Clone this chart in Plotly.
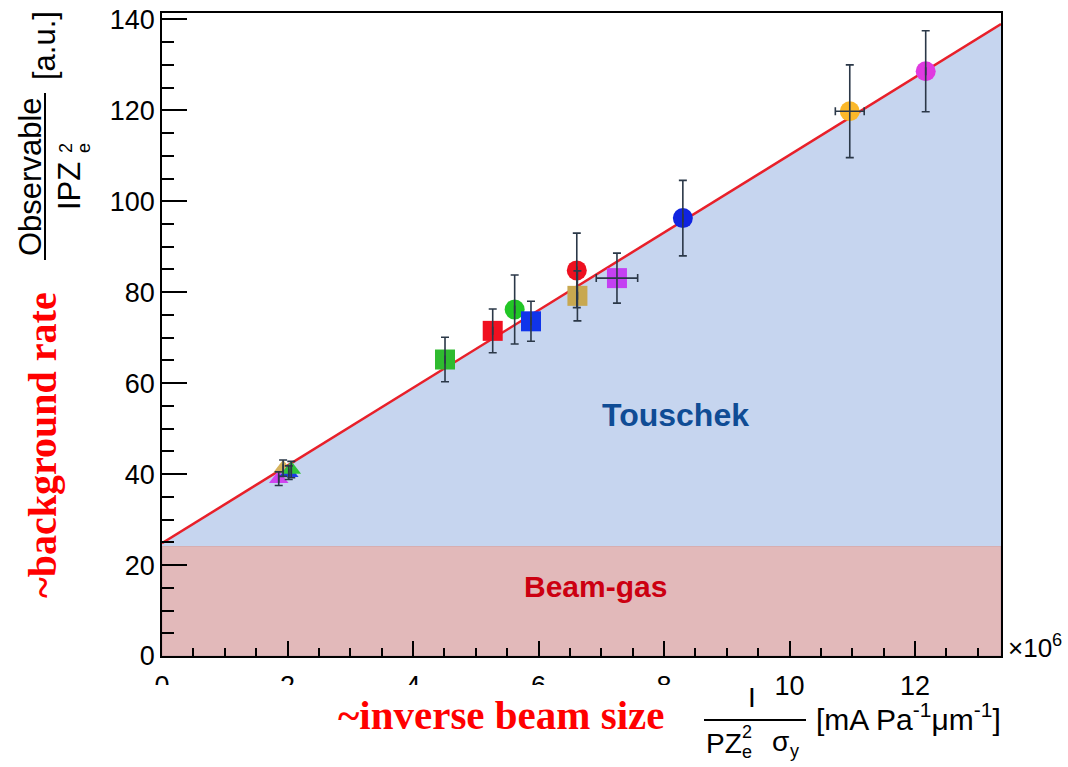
import plotly.graph_objects as go

# ---- data (x in units of 1e6 mA Pa^-1 um^-1) ----
x_vals = [1.86, 1.93, 2.02, 2.06, 4.51, 5.27, 5.62, 5.88, 6.61, 6.62, 7.25, 8.30, 10.96, 12.17]
y_vals = [39.0, 41.3, 40.3, 41.0, 65.2, 71.5, 76.2, 73.6, 84.8, 79.2, 83.1, 96.3, 119.8, 128.6]
y_err = [1.5, 1.8, 1.5, 1.8, 4.9, 4.8, 7.6, 4.4, 8.2, 5.5, 5.5, 8.3, 10.2, 8.9]
x_err = [None, None, None, None, None, None, None, None, None, None, 0.33, None, 0.23, None]
symbols = ["triangle-up", "triangle-up", "triangle-up", "triangle-up", "square", "square", "circle",
           "square", "circle", "square", "square", "circle", "circle", "circle"]
colors = ["#cf45ef", "#d6b25a", "#1d3be6", "#2fc43a", "#2fbb2f", "#f01020", "#22c626",
          "#1034ea", "#ee1020", "#c8a850", "#c440f2", "#1024e0", "#fbb82a", "#e03ae0"]

fit_intercept = 24.8
fit_slope = 8.54
beam_gas_level = 24.2
x_range = [0, 13.37]
y_range = [0, 141.4]
x_ticks = [0, 2, 4, 6, 8, 10, 12]
y_ticks = [0, 20, 40, 60, 80, 100, 120, 140]

W, H = 1068, 767
L, R, T, B = 162, 1001, 13, 656


def px(xp):
    return (xp - L) / (R - L)


def py(yp):
    return (B - yp) / (B - T)


fig = go.Figure()

# Beam-gas region
fig.add_trace(go.Scatter(
    x=[x_range[0], x_range[1], x_range[1], x_range[0], x_range[0]],
    y=[0, 0, beam_gas_level, beam_gas_level, 0],
    fill="toself", fillcolor="#e2b9ba", mode="lines",
    line=dict(color="#c9a0a6", width=1), hoverinfo="skip", showlegend=False))

# Touschek region
x0, x1 = x_range
fig.add_trace(go.Scatter(
    x=[x0, x1, x1, x0, x0],
    y=[fit_intercept, fit_intercept + fit_slope * x1, beam_gas_level, beam_gas_level, fit_intercept],
    fill="toself", fillcolor="#c6d5ef", mode="lines",
    line=dict(color="rgba(0,0,0,0)", width=0), hoverinfo="skip", showlegend=False))

# fit line
fig.add_trace(go.Scatter(
    x=[x0, x1], y=[fit_intercept, fit_intercept + fit_slope * x1],
    mode="lines", line=dict(color="#e8202a", width=2.5), showlegend=False))

# data points
sizes = [17 if s == "triangle-up" else 20 for s in symbols]
fig.add_trace(go.Scatter(
    x=x_vals, y=y_vals, mode="markers",
    marker=dict(symbol=symbols, color=colors, size=sizes, opacity=1, line=dict(width=0)),
    showlegend=False))

# error bars (drawn over the markers, as in the original)
fig.add_trace(go.Scatter(
    x=x_vals, y=y_vals, mode="markers",
    marker=dict(size=1, opacity=0),
    error_y=dict(type="data", array=y_err, visible=True, color="#2b3848", thickness=1.6, width=4),
    error_x=dict(type="data", array=x_err, visible=True, color="#2b3848", thickness=1.6, width=4),
    showlegend=False, hoverinfo="skip"))

axis_font = dict(family="Liberation Sans, Arial, sans-serif", size=27, color="black")

fig.update_xaxes(range=x_range, tickvals=x_ticks, ticks="inside", ticklen=15, tickwidth=1.5,
                 tickcolor="black", showline=True, linecolor="black", linewidth=1.5, mirror=True,
                 showgrid=False, zeroline=False, tickfont=axis_font, automargin=False,
                 ticklabelstandoff=5,
                 minor=dict(ticks="inside", ticklen=8, dtick=0.5, tick0=0, tickwidth=1.5,
                            tickcolor="black", showgrid=False))
fig.update_yaxes(range=y_range, tickvals=y_ticks, ticks="inside", ticklen=25, tickwidth=1.5,
                 tickcolor="black", showline=True, linecolor="black", linewidth=1.5, mirror=True,
                 showgrid=False, zeroline=False, tickfont=axis_font, automargin=False,
                 minor=dict(ticks="inside", ticklen=12, dtick=5, tick0=0, tickwidth=1.5,
                            tickcolor="black", showgrid=False))

sans = "Liberation Sans, Arial, sans-serif"
serif = "Liberation Serif, DejaVu Serif, serif"
ann = []


def a(text, xp, yp, size, color="black", family=sans, angle=0, xanchor="center", yanchor="middle"):
    ann.append(dict(text=text, x=px(xp), y=py(yp), xref="paper", yref="paper", showarrow=False,
                    font=dict(family=family, size=size, color=color), textangle=angle,
                    xanchor=xanchor, yanchor=yanchor))


# region labels
a("<b>Touschek</b>", 675, 415, 32, color="#0f4c95")
a("<b>Beam-gas</b>", 595, 586, 30, color="#cc0011")

# y-axis title (fraction)
a("Observable", 31, 177, 31, angle=-90)
a("IPZ", 69, 186, 31, angle=-90)
a("2", 66, 148, 18, angle=-90)
a("e", 84, 148, 18, angle=-90)
a("[a.u.]", 45, 46, 31, angle=-90)

# x-axis title (fraction)
a("I", 752, 697, 28)
a("PZ", 724, 743, 28)
a("2", 747, 732, 18)
a("e", 747, 752, 18)
a("σ", 780, 741, 28)
a("y", 794, 751, 18)
a("[mA Pa<sup>-1</sup>μm<sup>-1</sup>]", 908, 717, 30)
a("×10<sup>6</sup>", 1035, 646, 26)

# red overlay labels
a("<b>~inverse beam size</b>", 501, 715, 41, color="#ff0000", family=serif)
a("<b>~background rate</b>", 42, 445, 40, color="#ff0000", family=serif, angle=-90)

shapes = [
    # cover clipping the lower tick labels (as in the original slide)
    dict(type="rect", xref="paper", yref="paper", x0=px(148), x1=px(700), y0=py(705), y1=py(685),
         fillcolor="white", line=dict(width=0), layer="above"),
    # fraction bars
    dict(type="line", xref="paper", yref="paper", x0=px(45), x1=px(45), y0=py(93), y1=py(260),
         line=dict(color="black", width=2), layer="above"),
    dict(type="line", xref="paper", yref="paper", x0=px(704), x1=px(806), y0=py(720), y1=py(720),
         line=dict(color="black", width=2), layer="above"),
]

fig.update_layout(width=W, height=H, margin=dict(l=L, r=W - R, t=T, b=H - B, autoexpand=False),
                  paper_bgcolor="white", plot_bgcolor="white", annotations=ann, shapes=shapes,
                  showlegend=False)

fig.write_html("out.html", config={"displayModeBar": False},
               post_script="document.body.style.margin='0px';")
